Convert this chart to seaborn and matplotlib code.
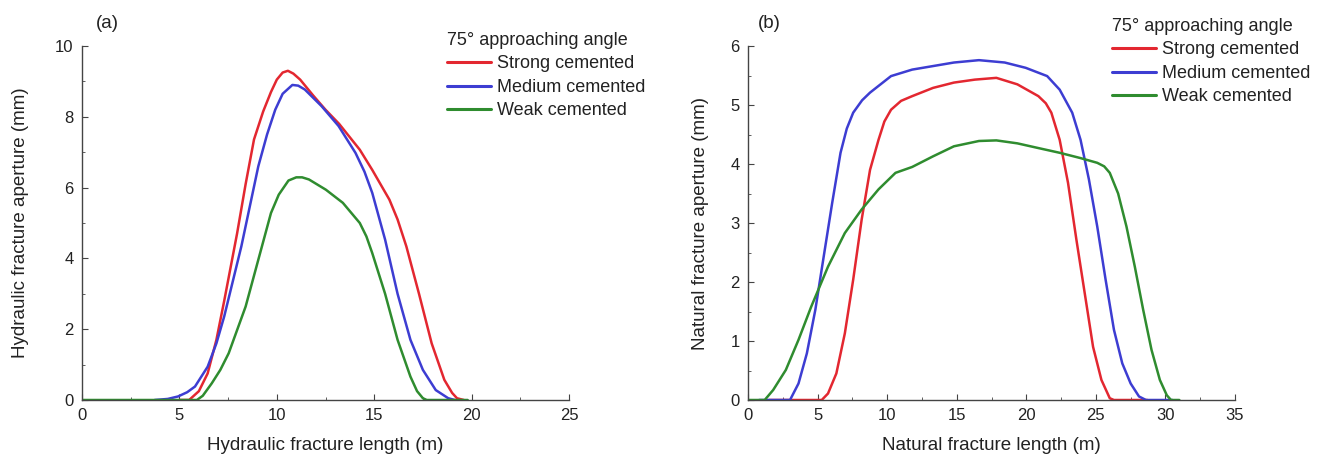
import matplotlib
matplotlib.use("Agg")
import matplotlib.pyplot as plt
import seaborn as sns
import pandas as pd
from matplotlib.ticker import MultipleLocator

# ---------------- Data: panel (a) hydraulic fracture ----------------
a_strong_x = [5.0, 5.5, 6.0, 6.45, 6.9, 7.3, 7.96, 8.4, 8.83, 9.3, 9.7, 10.0, 10.3, 10.57, 10.85, 11.2,
              11.87, 12.5, 13.2, 14.26, 14.9, 15.78, 16.2, 16.65, 17.3, 17.95, 18.6, 19.0, 19.25, 19.6]
a_strong_y = [0.0, 0.0, 0.25, 0.75, 1.7, 2.8, 4.7, 6.1, 7.36, 8.15, 8.7, 9.05, 9.25, 9.3, 9.22, 9.05,
              8.6, 8.2, 7.8, 7.07, 6.5, 5.66, 5.1, 4.34, 3.0, 1.6, 0.57, 0.2, 0.05, 0.0]

a_medium_x = [3.73, 4.4, 4.93, 5.4, 5.8, 6.45, 6.9, 7.3, 8.18, 9.05, 9.5, 9.92, 10.3, 10.8, 11.1, 11.44,
              12.3, 13.17, 14.04, 14.5, 14.9, 15.56, 16.2, 16.86, 17.5, 18.16, 18.8, 19.14]
a_medium_y = [0.0, 0.03, 0.1, 0.22, 0.38, 0.94, 1.6, 2.36, 4.34, 6.6, 7.5, 8.2, 8.65, 8.9, 8.88, 8.77,
              8.3, 7.74, 6.98, 6.45, 5.85, 4.53, 3.0, 1.7, 0.85, 0.28, 0.05, 0.0]

a_weak_x = [0.0, 3.0, 5.9, 6.2, 6.66, 7.1, 7.53, 8.4, 9.05, 9.7, 10.1, 10.6, 11.0, 11.3, 11.65, 12.52,
            13.39, 14.26, 14.6, 14.9, 15.56, 16.2, 16.86, 17.2, 17.5, 17.7, 19.8]
a_weak_y = [0.0, 0.0, 0.0, 0.12, 0.47, 0.85, 1.32, 2.64, 3.96, 5.28, 5.8, 6.2, 6.29, 6.29, 6.23, 5.94,
            5.57, 5.0, 4.62, 4.15, 3.0, 1.7, 0.66, 0.25, 0.05, 0.0, 0.0]

# ---------------- Data: panel (b) natural fracture ----------------
b_strong_x = [1.5, 5.3, 5.75, 6.35, 6.96, 7.56, 8.17, 8.77, 9.38, 9.8, 10.28, 11.0, 11.8, 13.3, 14.8,
              16.3, 17.85, 19.36, 20.87, 21.4, 21.8, 22.4, 23.0, 23.6, 24.2, 24.8, 25.4, 26.0, 26.3, 28.7]
b_strong_y = [0.0, 0.0, 0.11, 0.45, 1.13, 2.04, 3.06, 3.9, 4.41, 4.72, 4.92, 5.07, 5.15, 5.29, 5.38,
              5.43, 5.46, 5.35, 5.15, 5.03, 4.87, 4.41, 3.68, 2.72, 1.81, 0.9, 0.34, 0.03, 0.0, 0.0]

b_medium_x = [0.8, 3.02, 3.63, 4.23, 4.84, 5.44, 6.05, 6.65, 7.1, 7.56, 8.2, 8.77, 10.28, 11.8, 13.3,
              14.8, 16.6, 18.45, 19.96, 21.5, 22.4, 23.3, 23.9, 24.5, 25.1, 25.7, 26.3, 26.9, 27.5,
              28.1, 28.6, 30.5]
b_medium_y = [0.0, 0.0, 0.28, 0.79, 1.53, 2.43, 3.34, 4.19, 4.6, 4.87, 5.08, 5.21, 5.49, 5.6, 5.66,
              5.72, 5.76, 5.72, 5.63, 5.49, 5.26, 4.87, 4.41, 3.74, 2.94, 2.04, 1.19, 0.62, 0.28,
              0.06, 0.0, 0.0]

b_weak_x = [0.0, 1.2, 1.81, 2.72, 3.63, 4.54, 5.75, 6.96, 8.17, 9.38, 10.6, 11.8, 13.3, 14.8, 16.6,
            17.85, 19.36, 20.87, 22.4, 23.9, 25.1, 25.6, 26.0, 26.6, 27.2, 27.8, 28.4, 29.0, 29.6,
            30.1, 30.4, 31.0]
b_weak_y = [0.0, 0.0, 0.17, 0.51, 1.02, 1.58, 2.26, 2.83, 3.23, 3.57, 3.85, 3.95, 4.13, 4.3, 4.39,
            4.4, 4.35, 4.27, 4.19, 4.1, 4.02, 3.96, 3.85, 3.5, 2.94, 2.26, 1.53, 0.85, 0.34,
            0.08, 0.0, 0.0]

series_labels = ["Strong cemented", "Medium cemented", "Weak cemented"]
colors = ["#e32730", "#3d3dd2", "#2f8c2f"]
legend_title = "75° approaching angle"

sns.set_style("ticks")
plt.rcParams["font.family"] = ["Liberation Sans", "DejaVu Sans"]

fig = plt.figure(figsize=(13.17, 4.57), dpi=100)
ax_a = fig.add_axes([82 / 1317, 57 / 457, 487 / 1317, 354 / 457])
ax_b = fig.add_axes([748 / 1317, 57 / 457, 487 / 1317, 354 / 457])

panels = [
    (ax_a, [(a_strong_x, a_strong_y), (a_medium_x, a_medium_y), (a_weak_x, a_weak_y)],
     "Hydraulic fracture length (m)", "Hydraulic fracture aperture (mm)",
     (0, 25), (0, 10), 5, 2.5, 2, 1, (0.735, 1.06), 19),
    (ax_b, [(b_strong_x, b_strong_y), (b_medium_x, b_medium_y), (b_weak_x, b_weak_y)],
     "Natural fracture length (m)", "Natural fracture aperture (mm)",
     (0, 35), (0, 6), 5, 2.5, 1, 0.5, (0.733, 1.10), 15),
]

for ax, data, xl, yl, xlim, ylim, xmaj, xmin, ymaj, ymin, anchor, ypad in panels:
    for (xs, ys), lab, col in zip(data, series_labels, colors):
        df = pd.DataFrame({"x": xs, "y": ys})
        sns.lineplot(data=df, x="x", y="y", ax=ax, color=col, label=lab,
                     linewidth=1.8, sort=False, estimator=None)
    ax.set_xlim(*xlim)
    ax.set_ylim(*ylim)
    ax.xaxis.set_major_locator(MultipleLocator(xmaj))
    ax.xaxis.set_minor_locator(MultipleLocator(xmin))
    ax.yaxis.set_major_locator(MultipleLocator(ymaj))
    ax.yaxis.set_minor_locator(MultipleLocator(ymin))
    ax.tick_params(which="both", direction="in", labelsize=12, color="#444444",
                   labelcolor="#222222")
    ax.tick_params(which="major", length=4.5, pad=6)
    ax.tick_params(which="minor", length=2.5)
    ax.set_xlabel(xl, fontsize=13.5, labelpad=10, color="#222222")
    ax.set_ylabel(yl, fontsize=13.5, labelpad=ypad, color="#222222")
    for s in ["top", "right"]:
        ax.spines[s].set_visible(False)
    for s in ["left", "bottom"]:
        ax.spines[s].set_color("#444444")
        ax.spines[s].set_linewidth(1.0)
    leg = ax.legend(title=legend_title, frameon=False, loc="upper left",
                    bbox_to_anchor=anchor, fontsize=13, title_fontsize=13,
                    handlelength=2.4, handletextpad=0.35, labelspacing=0.36,
                    borderaxespad=0, alignment="left")
    for t in leg.get_texts():
        t.set_color("#222222")
    leg.get_title().set_color("#222222")
    for line in leg.get_lines():
        line.set_linewidth(2.2)

fig.text(96 / 1317, 1 - 23 / 457, "(a)", fontsize=13.5, va="center", ha="left", color="#222222")
fig.text(758 / 1317, 1 - 24 / 457, "(b)", fontsize=13.5, va="center", ha="left", color="#222222")

fig.savefig("out.png", dpi=100)
